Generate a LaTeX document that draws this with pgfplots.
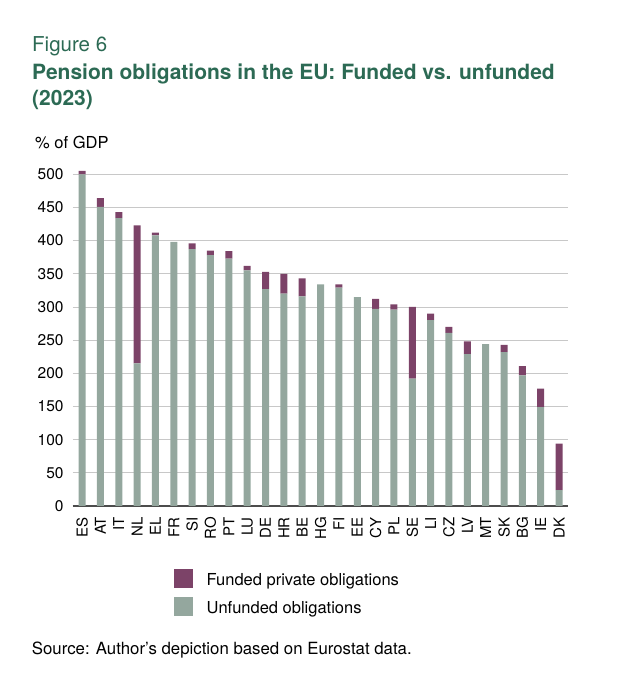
\documentclass[border=0pt]{standalone}
\usepackage{pgfplots}
\usepackage{pgfplotstable}
\pgfplotsset{compat=1.18}
\usepackage{fontspec}
\setmainfont{TeX Gyre Heros}
\definecolor{funded}{RGB}{124,67,104}
\definecolor{unfunded}{RGB}{148,167,158}
\definecolor{titlegreen}{RGB}{44,106,84}
\definecolor{gridc}{RGB}{200,200,200}
\pgfplotstableread{
idx lab unf fun
0 ES 500 5
1 AT 451 13
2 IT 434 9
3 NL 215 208
4 EL 408 4
5 FR 398 0
6 SI 387 9
7 RO 378 7
8 PT 373 11
9 LU 355 7
10 DE 327 26
11 HR 320 30
12 BE 316 27
13 HG 334 0
14 FI 329 5
15 EE 315 0
16 CY 297 15
17 PL 296 8
18 SE 192 108
19 LI 280 10
20 CZ 261 9
21 LV 229 19
22 MT 244 0
23 SK 232 11
24 BG 197 14
25 IE 149 28
26 DK 24 70
}\datatable
\begin{document}
\begin{tikzpicture}
\path[use as bounding box] (0pt,0pt) rectangle (644pt,680pt);
\node[anchor=base west, inner sep=0pt, text=titlegreen, font=\fontsize{20.5}{24}\selectfont] at (32pt,628pt) {Figure 6};
\node[anchor=base west, inner sep=0pt, text=titlegreen, font=\fontsize{21}{26}\selectfont\bfseries] at (32pt,600pt) {Pension obligations in the EU: Funded vs. unfunded};
\node[anchor=base west, inner sep=0pt, text=titlegreen, font=\fontsize{21}{26}\selectfont\bfseries] at (32pt,574pt) {(2023)};
\node[anchor=base west, inner sep=0pt, font=\fontsize{16.5}{20}\selectfont] at (35pt,531pt) {\% of GDP};
\begin{axis}[
  at={(72.7pt,174pt)}, anchor=south west,
  scale only axis, width=495pt, height=335.7pt,
  xmin=-0.51, xmax=26.47, ymin=0, ymax=506,
  ybar stacked, bar width=7pt,
  axis line style={draw=none},
  major tick length=0pt,
  xtick=data,
  xticklabels={ES,AT,IT,NL,EL,FR,SI,RO,PT,LU,DE,HR,BE,HG,FI,EE,CY,PL,SE,LI,CZ,LV,MT,SK,BG,IE,DK},
  xticklabel style={rotate=90, anchor=east, inner xsep=11pt, inner ysep=0pt, font=\fontsize{15}{18}\selectfont},
  ytick={0,50,...,500},
  yticklabel style={anchor=east, inner xsep=9pt, inner ysep=0pt, font=\fontsize{15.5}{18}\selectfont},
  /pgf/number format/assume math mode=true,
  ymajorgrids, grid style={gridc, line width=0.9pt},
  extra y ticks={0}, extra y tick labels={},
  extra y tick style={grid style={black!70, line width=1.1pt}},
  reverse legend,
  legend cell align=left,
  legend style={at={(0.2046,-0.1886)}, anchor=north west, draw=none, fill=none,
    inner sep=0pt, outer sep=0pt, row sep=9.1pt, column sep=14pt,
    nodes={inner sep=0pt, anchor=base west},
    font=\fontsize{16.5}{20}\selectfont},
]
\addplot[fill=unfunded, draw=none, legend image code/.code={\fill[unfunded] (0pt,-3.3pt) rectangle (18.7pt,15.7pt);}] table[x=idx, y=unf] {\datatable};
\addplot[fill=funded, draw=none, legend image code/.code={\fill[funded] (0pt,-3.3pt) rectangle (18.7pt,15.7pt);}] table[x=idx, y=fun] {\datatable};
\legend{Unfunded obligations, Funded private obligations}
\end{axis}
\node[anchor=base west, inner sep=0pt, font=\fontsize{16.8}{20}\selectfont] at (31.7pt,25.7pt) {Source: Author’s depiction based on Eurostat data.};
\end{tikzpicture}
\end{document}
